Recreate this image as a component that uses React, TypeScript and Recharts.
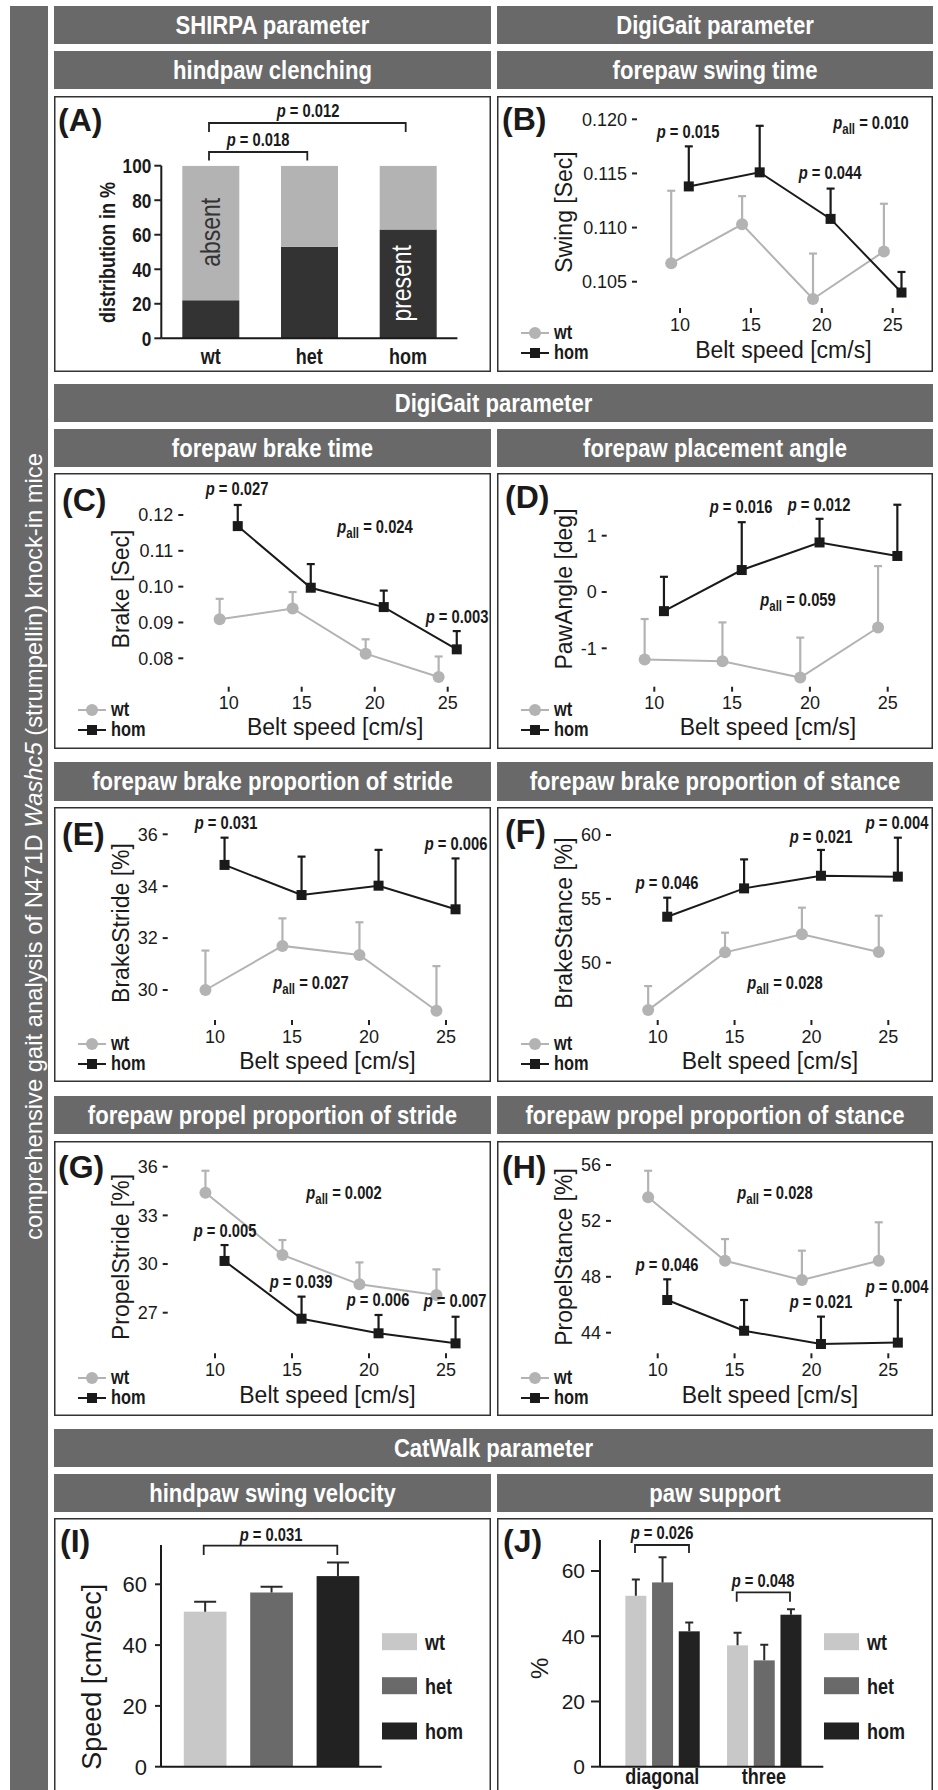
import React from "react";
import {
  LineChart,
  Line,
  BarChart,
  Bar,
  Cell,
  XAxis,
  YAxis,
  ErrorBar,
} from "recharts";

const SANS = "'Liberation Sans', Arial, Helvetica, sans-serif";
const NARROW_X = 0.82; // no narrow face installed, so the sans is squeezed
const WT = "#b3b3b3";
const HOM = "#1a1a1a";
const HEAD = "#696969";
const INK = "#1a1a1a";

// belt speeds of the DigiGait runs
const speeds = [10, 15, 20, 25];

// (A) hindpaw clenching, distribution in %
const genotypes = ["wt", "het", "hom"];
const clenchPresent = [22, 53, 63];
const clenchAbsent = [78, 47, 37];

// (B) forepaw swing time
const swingWt = [0.1067, 0.1103, 0.1034, 0.1078];
const swingWtSem = [0.0067, 0.0026, 0.0042, 0.0044];
const swingHom = [0.1138, 0.1151, 0.1108, 0.104];
const swingHomSem = [0.0037, 0.0043, 0.0028, 0.0019];

// (C) forepaw brake time
const brakeWt = [0.0909, 0.0939, 0.0813, 0.0748];
const brakeWtSem = [0.0057, 0.0046, 0.004, 0.0057];
const brakeHom = [0.1169, 0.0997, 0.0943, 0.0825];
const brakeHomSem = [0.0059, 0.0066, 0.0046, 0.0051];

// (D) forepaw placement angle
const angleWt = [-1.2, -1.23, -1.52, -0.63];
const angleWtSem = [0.72, 0.69, 0.71, 1.09];
const angleHom = [-0.34, 0.39, 0.88, 0.64];
const angleHomSem = [0.61, 0.85, 0.42, 0.91];

// (E) brake proportion of stride
const bStrideWt = [30.0, 31.7, 31.35, 29.2];
const bStrideWtSem = [1.52, 1.06, 1.26, 1.72];
const bStrideHom = [34.82, 33.66, 34.02, 33.11];
const bStrideHomSem = [1.05, 1.48, 1.38, 1.96];

// (F) brake proportion of stance
const bStanceWt = [46.29, 50.81, 52.22, 50.84];
const bStanceWtSem = [1.88, 1.54, 2.09, 2.84];
const bStanceHom = [53.6, 55.82, 56.81, 56.74];
const bStanceHomSem = [1.49, 2.27, 2.02, 3.05];

// (G) propel proportion of stride
const pStrideWt = [34.4, 30.56, 28.75, 28.09];
const pStrideWtSem = [1.35, 0.92, 1.35, 1.58];
const pStrideHom = [30.19, 26.63, 25.73, 25.11];
const pStrideHomSem = [0.98, 1.36, 1.13, 1.64];

// (H) propel proportion of stance
const pStanceWt = [53.69, 49.15, 47.77, 49.15];
const pStanceWtSem = [1.9, 1.55, 2.1, 2.75];
const pStanceHom = [46.34, 44.14, 43.19, 43.29];
const pStanceHomSem = [1.48, 2.2, 1.96, 3.05];

// (I) hindpaw swing velocity [cm/sec]
const swingSpeed = [51.0, 57.3, 62.7];
const swingSpeedSem = [3.3, 1.9, 4.5];
const genoColors = ["#c8c8c8", "#6a6a6a", "#222222"];

// (J) paw support [%]
const supportTypes = ["diagonal", "three"];
const supportWt = [52.4, 37.2];
const supportWtSem = [5.0, 3.9];
const supportHet = [56.5, 32.6];
const supportHetSem = [7.7, 4.8];
const supportHom = [41.5, 46.6];
const supportHomSem = [2.7, 1.7];

const DODGE = 0.62;

type Geo = {
  box: number[];
  x10: number;
  x25: number;
  yA: number[];
  yB: number[];
  yAxisX: number;
  xAxisY: number;
};

const geoB: Geo = { box: [497, 96, 933, 372], x10: 680, x25: 892.7, yA: [0.105, 281.7], yB: [0.12, 119.3], yAxisX: 637, xAxisY: 308 };
const geoC: Geo = { box: [54, 473, 491, 749], x10: 228.7, x25: 447.7, yA: [0.08, 658.3], yB: [0.12, 515], yAxisX: 183.3, xAxisY: 686.7 };
const geoD: Geo = { box: [497, 473, 933, 749], x10: 654.3, x25: 887.7, yA: [-1, 648.3], yB: [1, 535.7], yAxisX: 606.7, xAxisY: 686.7 };
const geoE: Geo = { box: [54, 807, 491, 1082], x10: 215, x25: 446, yA: [30, 990], yB: [36, 834.3], yAxisX: 167.7, xAxisY: 1020 };
const geoF: Geo = { box: [497, 807, 933, 1082], x10: 657.7, x25: 888.3, yA: [50, 962.7], yB: [60, 835], yAxisX: 611, xAxisY: 1020 };
const geoG: Geo = { box: [54, 1141, 491, 1416], x10: 215, x25: 446, yA: [27, 1312.7], yB: [36, 1166.7], yAxisX: 167.7, xAxisY: 1353.3 };
const geoH: Geo = { box: [497, 1141, 933, 1416], x10: 657.7, x25: 888.3, yA: [44, 1332.7], yB: [56, 1165], yAxisX: 611, xAxisY: 1353.3 };

const tickLineStyle = { stroke: "#222", strokeWidth: 2 };

// condensed text: translate, optional rotate, then squeeze along the text direction
function NText({ x, y, size, anchor = "start", bold = true, fill = INK, rotate = false, dy, sx = NARROW_X, children }: {
  x: number; y: number; size: number; anchor?: "start" | "middle" | "end"; bold?: boolean;
  fill?: string; rotate?: boolean; dy?: string | number; sx?: number; children: React.ReactNode;
}) {
  return (
    <text
      transform={`translate(${x}, ${y})${rotate ? " rotate(-90)" : ""} scale(${sx}, 1)`}
      textAnchor={anchor}
      dy={dy}
      fontFamily={SANS}
      fontWeight={bold ? "bold" : "normal"}
      fontSize={size}
      fill={fill}
    >
      {children}
    </text>
  );
}

const narrowTickX = (size: number) => (p: any) => (
  <NText key={p.index} x={p.x} y={p.y} size={size} anchor="middle" dy="0.71em">
    {p.payload.value}
  </NText>
);
const narrowTickY = (size: number) => (p: any) => (
  <NText key={p.index} x={p.x} y={p.y} size={size} anchor="end" dy="0.36em">
    {p.payload.value}
  </NText>
);

function LinePanel({ g, yTicks, fmt, wt, wtSem, hom, homSem }: {
  g: Geo; yTicks: number[]; fmt: (v: number) => string;
  wt: number[]; wtSem: number[]; hom: number[]; homSem: number[];
}) {
  const [bl, bt, br, bb] = g.box;
  const plotTop = bt + 4;
  const plotRight = br - 4;
  const sx = (g.x25 - g.x10) / 15;
  const xDom = [10 - (g.x10 - g.yAxisX) / sx, 10 + (plotRight - g.x10) / sx];
  const sy = (g.yA[1] - g.yB[1]) / (g.yB[0] - g.yA[0]);
  const yDom = [g.yA[0] - (g.xAxisY - g.yA[1]) / sy, g.yA[0] + (g.yA[1] - plotTop) / sy];
  const XH = 30;
  const YW = 50;
  const margin = {
    top: plotTop - bt,
    right: br - plotRight,
    bottom: bb - g.xAxisY - XH,
    left: g.yAxisX - bl - YW,
  };
  const wtData = speeds.map((s, i) => ({ x: s - DODGE, y: wt[i], e: [0, wtSem[i]] }));
  const homData = speeds.map((s, i) => ({ x: s + DODGE, y: hom[i], e: [0, homSem[i]] }));
  const tick = { fill: INK, fontSize: 18, fontFamily: SANS };
  return (
    <div style={{ position: "absolute", left: bl, top: bt }}>
      <LineChart width={br - bl} height={bb - bt} margin={margin}>
        <XAxis
          type="number"
          dataKey="x"
          domain={xDom}
          ticks={speeds}
          allowDataOverflow
          interval={0}
          axisLine={false}
          tickLine={tickLineStyle}
          tickSize={5}
          tickMargin={5}
          height={XH}
          tick={tick}
        />
        <YAxis
          type="number"
          domain={yDom}
          ticks={yTicks}
          allowDataOverflow
          interval={0}
          axisLine={false}
          tickLine={tickLineStyle}
          tickSize={5}
          tickMargin={5}
          width={YW}
          tick={tick}
          tickFormatter={fmt}
        />
        <Line
          data={wtData}
          dataKey="y"
          type="linear"
          stroke={WT}
          strokeWidth={2}
          activeDot={false}
          isAnimationActive={false}
          dot={(p: any) => <circle key={"w" + p.index} cx={p.cx} cy={p.cy} r={6} fill={WT} />}
        >
          <ErrorBar dataKey="e" direction="y" width={4} stroke={WT} strokeWidth={2.2} isAnimationActive={false} />
        </Line>
        <Line
          data={homData}
          dataKey="y"
          type="linear"
          stroke={HOM}
          strokeWidth={2}
          activeDot={false}
          isAnimationActive={false}
          dot={(p: any) => (
            <rect key={"h" + p.index} x={p.cx - 5} y={p.cy - 5} width={10} height={10} fill={HOM} />
          )}
        >
          <ErrorBar dataKey="e" direction="y" width={4} stroke={HOM} strokeWidth={2.2} isAnimationActive={false} />
        </Line>
      </LineChart>
    </div>
  );
}

// bar shape that also draws the upward SEM whisker, scaled from the bar itself
const barWithErr = (errKey: string, cap: number) => (p: any) => {
  const { x, y, width, height, fill, payload, value } = p;
  const v = Array.isArray(value) ? value[1] - value[0] : value;
  const k = v ? height / v : 0;
  const top = y - payload[errKey] * k;
  const cx = x + width / 2;
  return (
    <g>
      <rect x={x} y={y} width={width} height={height} fill={fill} />
      <line x1={cx} x2={cx} y1={y} y2={top} stroke="#2a2a2a" strokeWidth={2} />
      <line x1={cx - cap} x2={cx + cap} y1={top} y2={top} stroke="#2a2a2a" strokeWidth={2} />
    </g>
  );
};

function ClenchChart() {
  const data = genotypes.map((g, i) => ({ g, present: clenchPresent[i], absent: clenchAbsent[i] }));
  return (
    <div style={{ position: "absolute", left: 54, top: 96 }}>
      <BarChart width={437} height={276} data={data} barSize={57} margin={{ top: 69.7, right: 33.6, bottom: 3.7, left: 57.3 }}>
        <XAxis
          dataKey="g"
          axisLine={{ stroke: INK, strokeWidth: 2 }}
          tickLine={false}
          tickSize={6}
          tickMargin={4}
          height={30}
          tick={narrowTickX(22)}
        />
        <YAxis
          type="number"
          domain={[0, 100]}
          ticks={[0, 20, 40, 60, 80, 100]}
          allowDataOverflow
          interval={0}
          axisLine={{ stroke: INK, strokeWidth: 2 }}
          tickLine={tickLineStyle}
          tickSize={7}
          tickMargin={3}
          width={50}
          tick={narrowTickY(21)}
        />
        <Bar dataKey="present" stackId="a" fill="#333333" isAnimationActive={false} />
        <Bar dataKey="absent" stackId="a" fill="#b3b3b3" isAnimationActive={false} />
      </BarChart>
    </div>
  );
}

function SwingSpeedChart() {
  const data = genotypes.map((g, i) => ({ g, v: swingSpeed[i], e: swingSpeedSem[i] }));
  const plotTop = 1545;
  const yMax = (1766.7 - plotTop) / ((1766.7 - 1584.3) / 60);
  return (
    <div style={{ position: "absolute", left: 54, top: 1518 }}>
      <BarChart width={437} height={272} data={data} barSize={42.7} margin={{ top: plotTop - 1518, right: 109.3, bottom: 13.3, left: 57 }}>
        <XAxis dataKey="g" axisLine={{ stroke: INK, strokeWidth: 2 }} tickLine={false} tick={false} height={10} padding={{ left: 10.8, right: 10.7 }} />
        <YAxis
          type="number"
          domain={[0, yMax]}
          ticks={[0, 20, 40, 60]}
          allowDataOverflow
          interval={0}
          axisLine={{ stroke: INK, strokeWidth: 2 }}
          tickLine={tickLineStyle}
          tickSize={6}
          tickMargin={8}
          width={50}
          tick={{ fill: INK, fontSize: 22, fontFamily: SANS }}
        />
        <Bar dataKey="v" isAnimationActive={false} shape={barWithErr("e", 11)}>
          {data.map((d, i) => (
            <Cell key={d.g} fill={genoColors[i]} />
          ))}
        </Bar>
      </BarChart>
    </div>
  );
}

function SupportChart() {
  const data = supportTypes.map((t, i) => ({
    t,
    wt: supportWt[i],
    wtE: supportWtSem[i],
    het: supportHet[i],
    hetE: supportHetSem[i],
    hom: supportHom[i],
    homE: supportHomSem[i],
  }));
  const plotTop = 1540;
  const yMax = (1766.7 - plotTop) / ((1766.7 - 1571) / 60);
  return (
    <div style={{ position: "absolute", left: 497, top: 1518 }}>
      <BarChart width={436} height={272} data={data} barSize={21} barGap={5.7} margin={{ top: plotTop - 1518, right: 109.7, bottom: 3.3, left: 53 }}>
        <XAxis
          dataKey="t"
          axisLine={{ stroke: INK, strokeWidth: 2 }}
          tickLine={false}
          tickSize={0}
          tickMargin={2}
          height={20}
          padding={{ left: 11.35, right: 8.55 }}
          tick={narrowTickX(22)}
        />
        <YAxis
          type="number"
          domain={[0, yMax]}
          ticks={[0, 20, 40, 60]}
          allowDataOverflow
          interval={0}
          axisLine={{ stroke: INK, strokeWidth: 2 }}
          tickLine={tickLineStyle}
          tickSize={9}
          tickMargin={6}
          width={50}
          tick={{ fill: INK, fontSize: 21, fontFamily: SANS }}
        />
        <Bar dataKey="wt" fill={genoColors[0]} isAnimationActive={false} shape={barWithErr("wtE", 4)} />
        <Bar dataKey="het" fill={genoColors[1]} isAnimationActive={false} shape={barWithErr("hetE", 4)} />
        <Bar dataKey="hom" fill={genoColors[2]} isAnimationActive={false} shape={barWithErr("homE", 4)} />
      </BarChart>
    </div>
  );
}

// ---------- annotation layer ----------

const headers: [number, number, number, number, string][] = [
  [54, 491, 6, 44, "SHIRPA parameter"],
  [497, 933, 6, 44, "DigiGait parameter"],
  [54, 491, 51, 89, "hindpaw clenching"],
  [497, 933, 51, 89, "forepaw swing time"],
  [54, 933, 384, 422, "DigiGait parameter"],
  [54, 491, 429, 467, "forepaw brake time"],
  [497, 933, 429, 467, "forepaw placement angle"],
  [54, 491, 762, 801, "forepaw brake proportion of stride"],
  [497, 933, 762, 801, "forepaw brake proportion of stance"],
  [54, 491, 1096, 1134, "forepaw propel proportion of stride"],
  [497, 933, 1096, 1134, "forepaw propel proportion of stance"],
  [54, 933, 1429, 1467, "CatWalk parameter"],
  [54, 491, 1474, 1512, "hindpaw swing velocity"],
  [497, 933, 1474, 1512, "paw support"],
];

const boxes = [
  [54, 96, 491, 372], [497, 96, 933, 372],
  [54, 473, 491, 749], [497, 473, 933, 749],
  [54, 807, 491, 1082], [497, 807, 933, 1082],
  [54, 1141, 491, 1416], [497, 1141, 933, 1416],
  [54, 1518, 491, 1800], [497, 1518, 933, 1800],
];

const letters: [string, number, number][] = [
  ["(A)", 58, 131], ["(B)", 502, 130], ["(C)", 62, 511], ["(D)", 505, 508],
  ["(E)", 62, 845], ["(F)", 505, 842], ["(G)", 58, 1178], ["(H)", 502, 1178],
  ["(I)", 60, 1552], ["(J)", 503, 1552],
];

const pNotes: { x: number; y: number; v: string; all?: boolean }[] = [
  { x: 308, y: 117, v: "0.012" },
  { x: 258, y: 146, v: "0.018" },
  { x: 688, y: 138, v: "0.015" },
  { x: 830, y: 179, v: "0.044" },
  { x: 871, y: 129, v: "0.010", all: true },
  { x: 237, y: 495, v: "0.027" },
  { x: 375, y: 533, v: "0.024", all: true },
  { x: 457, y: 623, v: "0.003" },
  { x: 741, y: 513, v: "0.016" },
  { x: 819, y: 511, v: "0.012" },
  { x: 798, y: 606, v: "0.059", all: true },
  { x: 226, y: 829, v: "0.031" },
  { x: 456, y: 850, v: "0.006" },
  { x: 311, y: 989, v: "0.027", all: true },
  { x: 667, y: 889, v: "0.046" },
  { x: 821, y: 843, v: "0.021" },
  { x: 897, y: 829, v: "0.004" },
  { x: 785, y: 989, v: "0.028", all: true },
  { x: 344, y: 1199, v: "0.002", all: true },
  { x: 225, y: 1237, v: "0.005" },
  { x: 301, y: 1288, v: "0.039" },
  { x: 378, y: 1306, v: "0.006" },
  { x: 455, y: 1307, v: "0.007" },
  { x: 775, y: 1199, v: "0.028", all: true },
  { x: 667, y: 1271, v: "0.046" },
  { x: 821, y: 1308, v: "0.021" },
  { x: 897, y: 1293, v: "0.004" },
  { x: 271, y: 1541, v: "0.031" },
  { x: 662, y: 1539, v: "0.026" },
  { x: 763, y: 1587, v: "0.048" },
];

const brackets = [
  [209, 405.7, 123, 132],
  [209, 307.3, 152, 160.5],
  [203.7, 337.3, 1545.7, 1555],
  [635, 689, 1545, 1553],
  [736.7, 790, 1592.3, 1601.7],
];

const lineLabels: [Geo, string][] = [
  [geoB, "Swing [Sec]"],
  [geoC, "Brake [Sec]"],
  [geoD, "PawAngle [deg]"],
  [geoE, "BrakeStride [%]"],
  [geoF, "BrakeStance [%]"],
  [geoG, "PropelStride [%]"],
  [geoH, "PropelStance [%]"],
];

function PVal({ x, y, v, all }: { x: number; y: number; v: string; all?: boolean }) {
  return (
    <NText x={x} y={y} size={18} anchor="middle">
      <tspan fontStyle="italic">p</tspan>
      {all ? (
        <tspan fontSize={14} dy={5}>
          all
        </tspan>
      ) : null}
      <tspan dy={all ? -5 : 0}>{" = " + v}</tspan>
    </NText>
  );
}

function Overlay() {
  return (
    <svg width={938} height={1790} style={{ position: "absolute", left: 0, top: 0, pointerEvents: "none" }}>
      <rect x={10} y={6} width={38} height={1800} fill={HEAD} />
      <text
        transform="translate(42, 846.5) rotate(-90)"
        textAnchor="middle"
        fill="#fff"
        fontFamily={SANS}
        fontSize={24}
        textLength={787}
        lengthAdjust="spacingAndGlyphs"
      >
        comprehensive gait analysis of N471D <tspan fontStyle="italic">Washc5</tspan> (strumpellin) knock-in mice
      </text>
      {headers.map(([x1, x2, y1, y2, t], i) => (
        <g key={"h" + i}>
          <rect x={x1} y={y1} width={x2 - x1} height={y2 - y1} fill={HEAD} />
          <NText x={(x1 + x2) / 2} y={(y1 + y2) / 2 + 8.5} size={26} anchor="middle" fill="#fff" sx={0.85}>
            {t}
          </NText>
        </g>
      ))}
      {boxes.map(([x1, y1, x2, y2], i) => (
        <rect key={"b" + i} x={x1 + 0.75} y={y1 + 0.75} width={x2 - x1 - 1.5} height={y2 - y1 - 1.5} fill="none" stroke="#333" strokeWidth={1.5} />
      ))}
      {letters.map(([t, x, y]) => (
        <text key={t} x={x} y={y} fontFamily={SANS} fontWeight="bold" fontSize={32} fill={INK}>
          {t}
        </text>
      ))}
      {pNotes.map((n, i) => (
        <PVal key={"p" + i} {...n} />
      ))}
      {brackets.map(([x1, x2, y, y2], i) => (
        <path key={"k" + i} d={`M${x1} ${y2} V${y} H${x2} V${y2}`} fill="none" stroke="#222" strokeWidth={1.8} />
      ))}
      {lineLabels.map(([g, t]) => {
        const [bl, bt] = g.box;
        return (
          <g key={t}>
            <text x={(g.x10 + g.x25) / 2 - 3} y={bt + 262} textAnchor="middle" fontFamily={SANS} fontSize={23} fill={INK}>
              Belt speed [cm/s]
            </text>
            <text transform={`translate(${bl + 75}, ${bt + 116}) rotate(-90)`} textAnchor="middle" fontFamily={SANS} fontSize={23} fill={INK}>
              {t}
            </text>
            <line x1={bl + 24} x2={bl + 52} y1={bt + 237} y2={bt + 237} stroke={WT} strokeWidth={2} />
            <circle cx={bl + 38} cy={bt + 237} r={6} fill={WT} />
            <NText x={bl + 57} y={bt + 242.5} size={20}>
              wt
            </NText>
            <line x1={bl + 24} x2={bl + 52} y1={bt + 257} y2={bt + 257} stroke={HOM} strokeWidth={2} />
            <rect x={bl + 33} y={bt + 252} width={10} height={10} fill={HOM} />
            <NText x={bl + 57} y={bt + 262.5} size={20}>
              hom
            </NText>
          </g>
        );
      })}
      {/* (A) axis title and in-bar labels */}
      <NText x={115} y={252.5} size={22} anchor="middle" rotate>
        distribution in %
      </NText>
      <NText x={219.5} y={232.3} size={28} anchor="middle" rotate bold={false} fill="#333">
        absent
      </NText>
      <NText x={410.8} y={283.3} size={28} anchor="middle" rotate bold={false} fill="#fff">
        present
      </NText>
      {/* (I) and (J) axis titles and legends */}
      <text transform="translate(101, 1676.7) rotate(-90)" textAnchor="middle" fontFamily={SANS} fontSize={27} fill={INK}>
        Speed [cm/sec]
      </text>
      <text transform="translate(548, 1668.3) rotate(-90)" textAnchor="middle" fontFamily={SANS} fontSize={24} fill={INK}>
        %
      </text>
      {[382, 824].map((lx) =>
        genotypes.map((g, i) => {
          const cy = [1641.7, 1685.7, 1731][i];
          return (
            <g key={lx + g}>
              <rect x={lx} y={cy - 8.5} width={35} height={17} fill={genoColors[i]} />
              <NText x={lx + 43} y={cy + 8} size={22}>
                {g}
              </NText>
            </g>
          );
        })
      )}
    </svg>
  );
}

const f3 = (v: number) => v.toFixed(3);
const f2 = (v: number) => v.toFixed(2);
const f0 = (v: number) => String(Math.round(v));

export default function App() {
  return (
    <div style={{ position: "absolute", left: 0, top: 0, width: 938, height: 1790, overflow: "hidden", background: "#fff" }}>
      <ClenchChart />
      <LinePanel g={geoB} yTicks={[0.105, 0.11, 0.115, 0.12]} fmt={f3} wt={swingWt} wtSem={swingWtSem} hom={swingHom} homSem={swingHomSem} />
      <LinePanel g={geoC} yTicks={[0.08, 0.09, 0.1, 0.11, 0.12]} fmt={f2} wt={brakeWt} wtSem={brakeWtSem} hom={brakeHom} homSem={brakeHomSem} />
      <LinePanel g={geoD} yTicks={[-1, 0, 1]} fmt={f0} wt={angleWt} wtSem={angleWtSem} hom={angleHom} homSem={angleHomSem} />
      <LinePanel g={geoE} yTicks={[30, 32, 34, 36]} fmt={f0} wt={bStrideWt} wtSem={bStrideWtSem} hom={bStrideHom} homSem={bStrideHomSem} />
      <LinePanel g={geoF} yTicks={[50, 55, 60]} fmt={f0} wt={bStanceWt} wtSem={bStanceWtSem} hom={bStanceHom} homSem={bStanceHomSem} />
      <LinePanel g={geoG} yTicks={[27, 30, 33, 36]} fmt={f0} wt={pStrideWt} wtSem={pStrideWtSem} hom={pStrideHom} homSem={pStrideHomSem} />
      <LinePanel g={geoH} yTicks={[44, 48, 52, 56]} fmt={f0} wt={pStanceWt} wtSem={pStanceWtSem} hom={pStanceHom} homSem={pStanceHomSem} />
      <SwingSpeedChart />
      <SupportChart />
      <Overlay />
    </div>
  );
}
